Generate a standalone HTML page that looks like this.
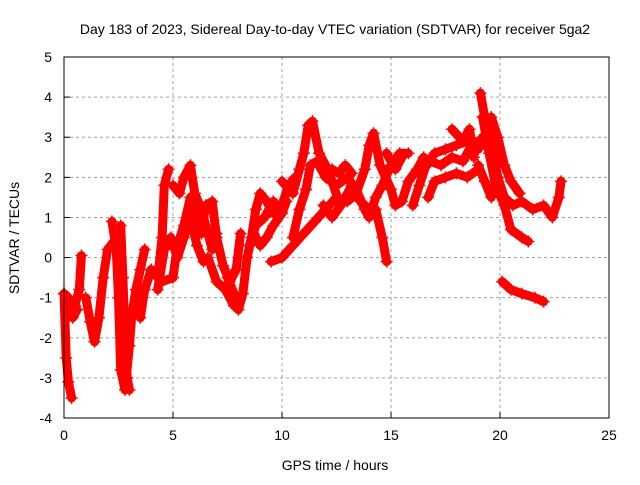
<!DOCTYPE html>
<html><head><meta charset="utf-8"><style>
body{margin:0;background:#fff}
svg text{font-family:"Liberation Sans",sans-serif;font-size:14px;fill:#000}
</style></head><body>
<svg id="chart" width="640" height="480" xmlns="http://www.w3.org/2000/svg">
<text x="335" y="34" text-anchor="middle">Day 183 of 2023, Sidereal Day-to-day VTEC variation (SDTVAR) for receiver 5ga2</text>
<text x="335" y="470" text-anchor="middle">GPS time / hours</text>
<text transform="translate(19,238) rotate(-90)" text-anchor="middle">SDTVAR / TECUs</text>
<g id="grid"></g>
<g id="ticks"></g>
<g id="marks"></g>
<rect x="64" y="57" width="545" height="361" fill="none" stroke="#000" stroke-width="1"/>
</svg>
<script>
const xTicks=[0,5,10,15,20,25];
const yTicks=[-4,-3,-2,-1,0,1,2,3,4,5];
const tracks=[
[[0,-0.9],[0.1,-2.5],[0.2,-3.1],[0.35,-3.5]],
[[0,-0.9],[0.2,-1.4],[0.5,-1.2],[0.7,-0.8],[0.8,0.05]],
[[0,-0.9],[0.2,-1.0],[0.4,-1.5],[0.6,-1.3]],
[[1.0,-1.0],[1.2,-1.6],[1.4,-2.1],[1.6,-1.5],[1.8,-0.5],[2.0,0.2],[2.3,0.4]],
[[2.2,0.9],[2.4,0.2],[2.5,-1],[2.6,-2.8],[2.8,-3.3],[3.0,-2.2],[3.1,-1.5],[3.3,-0.8],[3.5,-0.3],[3.7,0.2]],
[[2.6,0.8],[2.7,-0.5],[2.8,-2],[2.9,-3.0],[3.0,-3.3]],
[[3.5,-1.5],[3.7,-0.8],[4.0,-0.3],[4.3,-0.5],[4.5,0.5],[4.6,1.8],[4.8,2.2]],
[[4.0,-0.3],[4.5,-0.6],[5,-0.5],[5.2,0.3],[5.5,0.8],[5.8,1.5],[6.0,1.2],[6.3,0.6],[6.5,1.3],[6.8,1.4],[7.0,0.5],[7.3,-0.2],[7.6,-0.6],[7.9,-0.3],[8.1,0.6]],
[[4.3,-0.8],[4.6,0.2],[4.9,0.5],[5.2,0.0],[5.5,0.5],[5.8,1.0],[6.1,0.3],[6.4,-0.1]],
[[5.0,1.8],[5.3,1.6],[5.5,2.0],[5.8,2.3],[6.0,1.6],[6.3,1.2],[6.5,0.8],[6.8,0.2],[7,0.6]],
[[6.6,0.0],[7.0,-0.6],[7.4,-0.8],[7.8,-1.2]],
[[7.5,-0.5],[7.8,-0.9],[8.0,-1.3],[8.2,-0.9],[8.4,0.0],[8.6,0.5],[8.8,1.2],[9.0,1.6],[9.3,1.4],[9.6,1.1],[10,1.3],[10.3,1.8],[10.6,2.0]],
[[8.5,0.3],[8.8,0.8],[9.2,1.0],[9.6,1.4],[9.9,1.2]],
[[8.7,0.6],[9.0,0.3],[9.3,0.5],[9.6,0.8],[10,1.1],[10.2,1.4]],
[[9.5,-0.1],[10,0.0],[10.5,0.3],[11,0.6],[11.5,0.9],[12,1.2],[12.5,1.5]],
[[10,1.9],[10.5,1.6],[10.8,2.2],[11.0,2.6],[11.2,3.3],[11.4,3.4],[11.7,2.6],[12,2.3],[12.3,1.9],[12.6,1.4],[13,1.4],[13.4,1.6],[13.8,2.2],[14,2.8],[14.2,3.1],[14.5,2.3],[15,1.7],[15.2,1.3],[15.5,1.4],[15.8,1.9],[16.2,2.2],[16.5,2.5]],
[[10.5,0.5],[10.8,1.2],[11.1,1.7],[11.3,2.3],[11.6,2.4],[12.0,2.0],[12.5,1.8],[13,2.0],[13.4,1.7],[13.8,1.2],[14,1.0],[14.3,1.5],[14.6,1.8],[15,2.3],[15.4,2.6],[15.8,2.6]],
[[11.9,1.3],[12.3,1.0],[12.7,1.3],[13.2,1.8],[13.6,1.4],[14,1.2]],
[[12.3,2.2],[12.6,2.1],[12.9,2.3],[13.2,2.1]],
[[14.3,1.2],[14.6,0.5],[14.8,-0.1]],
[[14.8,2.6],[15.2,2.2],[15.5,2.5]],
[[16.0,1.3],[16.3,1.8],[16.6,2.3],[17,2.6],[17.5,2.7],[18,2.8],[18.5,2.9],[19,2.7],[19.2,3.0]],
[[16.3,2.1],[16.8,2.4],[17.3,2.3],[17.8,2.5],[18.3,2.4],[18.8,2.9]],
[[16.7,1.5],[17,1.9],[17.5,2.0],[18,2.1],[18.5,2.0],[19,2.2]],
[[17.8,3.2],[18.3,2.9],[18.6,3.2],[18.8,2.5]],
[[19.1,4.1],[19.3,3.5],[19.6,2.8],[19.9,2.0],[20.2,1.5],[20.6,1.3],[21.0,1.4],[21.5,1.2],[22,1.3],[22.4,1.0],[22.7,1.5],[22.8,1.9]],
[[19.2,3.5],[19.5,2.6],[19.8,1.8],[20.2,1.3],[20.5,0.7],[21.0,0.5],[21.3,0.4]],
[[19.6,3.5],[19.9,3.0],[20.2,2.3],[20.5,1.9],[20.9,1.6]],
[[20.1,-0.6],[20.5,-0.8],[21,-0.9],[21.6,-1.0],[22,-1.1]],
[[19.0,2.3],[19.3,1.9],[19.6,1.5]]
];
const NS="http://www.w3.org/2000/svg";
const X0=64,X1=609,Y0=418,Y1=57;
function sx(t){return X0+(t-0)/25*(X1-X0);}
function sy(v){return Y0-(v+4)/9*(Y0-Y1);}
function mk(tag,attrs,parent){const e=document.createElementNS(NS,tag);for(const k in attrs)e.setAttribute(k,attrs[k]);parent.appendChild(e);return e;}
const grid=document.getElementById('grid'),ticks=document.getElementById('ticks'),marks=document.getElementById('marks');
xTicks.forEach(t=>{
  const x=sx(t);
  if(t>0&&t<25){const g=mk('line',{x1:x,x2:x,y1:Y1,y2:Y0,stroke:'#a0a0a0','stroke-dasharray':'3,3'},grid);
  
  }
  const tk=mk('line',{x1:x,x2:x,y1:Y0,y2:Y0-6,stroke:'#000'},ticks);
  
  
  const lb=mk('text',{x:x,y:Y0+22,'text-anchor':'middle'},ticks);lb.textContent=t;
  
  
});
yTicks.forEach(v=>{
  const y=sy(v);
  if(v>-4&&v<5){const g=mk('line',{x1:X0,x2:X1,y1:y,y2:y,stroke:'#a0a0a0','stroke-dasharray':'3,3'},grid);
  
  }
  const tk=mk('line',{x1:X0,x2:X0+6,y1:y,y2:y,stroke:'#000'},ticks);
  
  
  const lb=mk('text',{x:X0-12,y:y+5,'text-anchor':'end'},ticks);lb.textContent=v;
  
  
});
tracks.forEach(tr=>{
  const pts=tr.map(p=>sx(p[0]).toFixed(1)+','+sy(p[1]).toFixed(1)).join(' ');
  const pl=mk('polyline',{points:pts,fill:'none',stroke:'#ff0000','stroke-width':9,'stroke-linejoin':'round','stroke-linecap':'round'},marks);
  
  
  tr.forEach(p=>{
    const x=sx(p[0]),y=sy(p[1]);
    const m=mk('path',{d:`M${x-6},${y}H${x+6}M${x},${y-6}V${y+6}`,stroke:'#ff0000','stroke-width':1.5},marks);
    
    
  });
});
</script>
</body></html>
